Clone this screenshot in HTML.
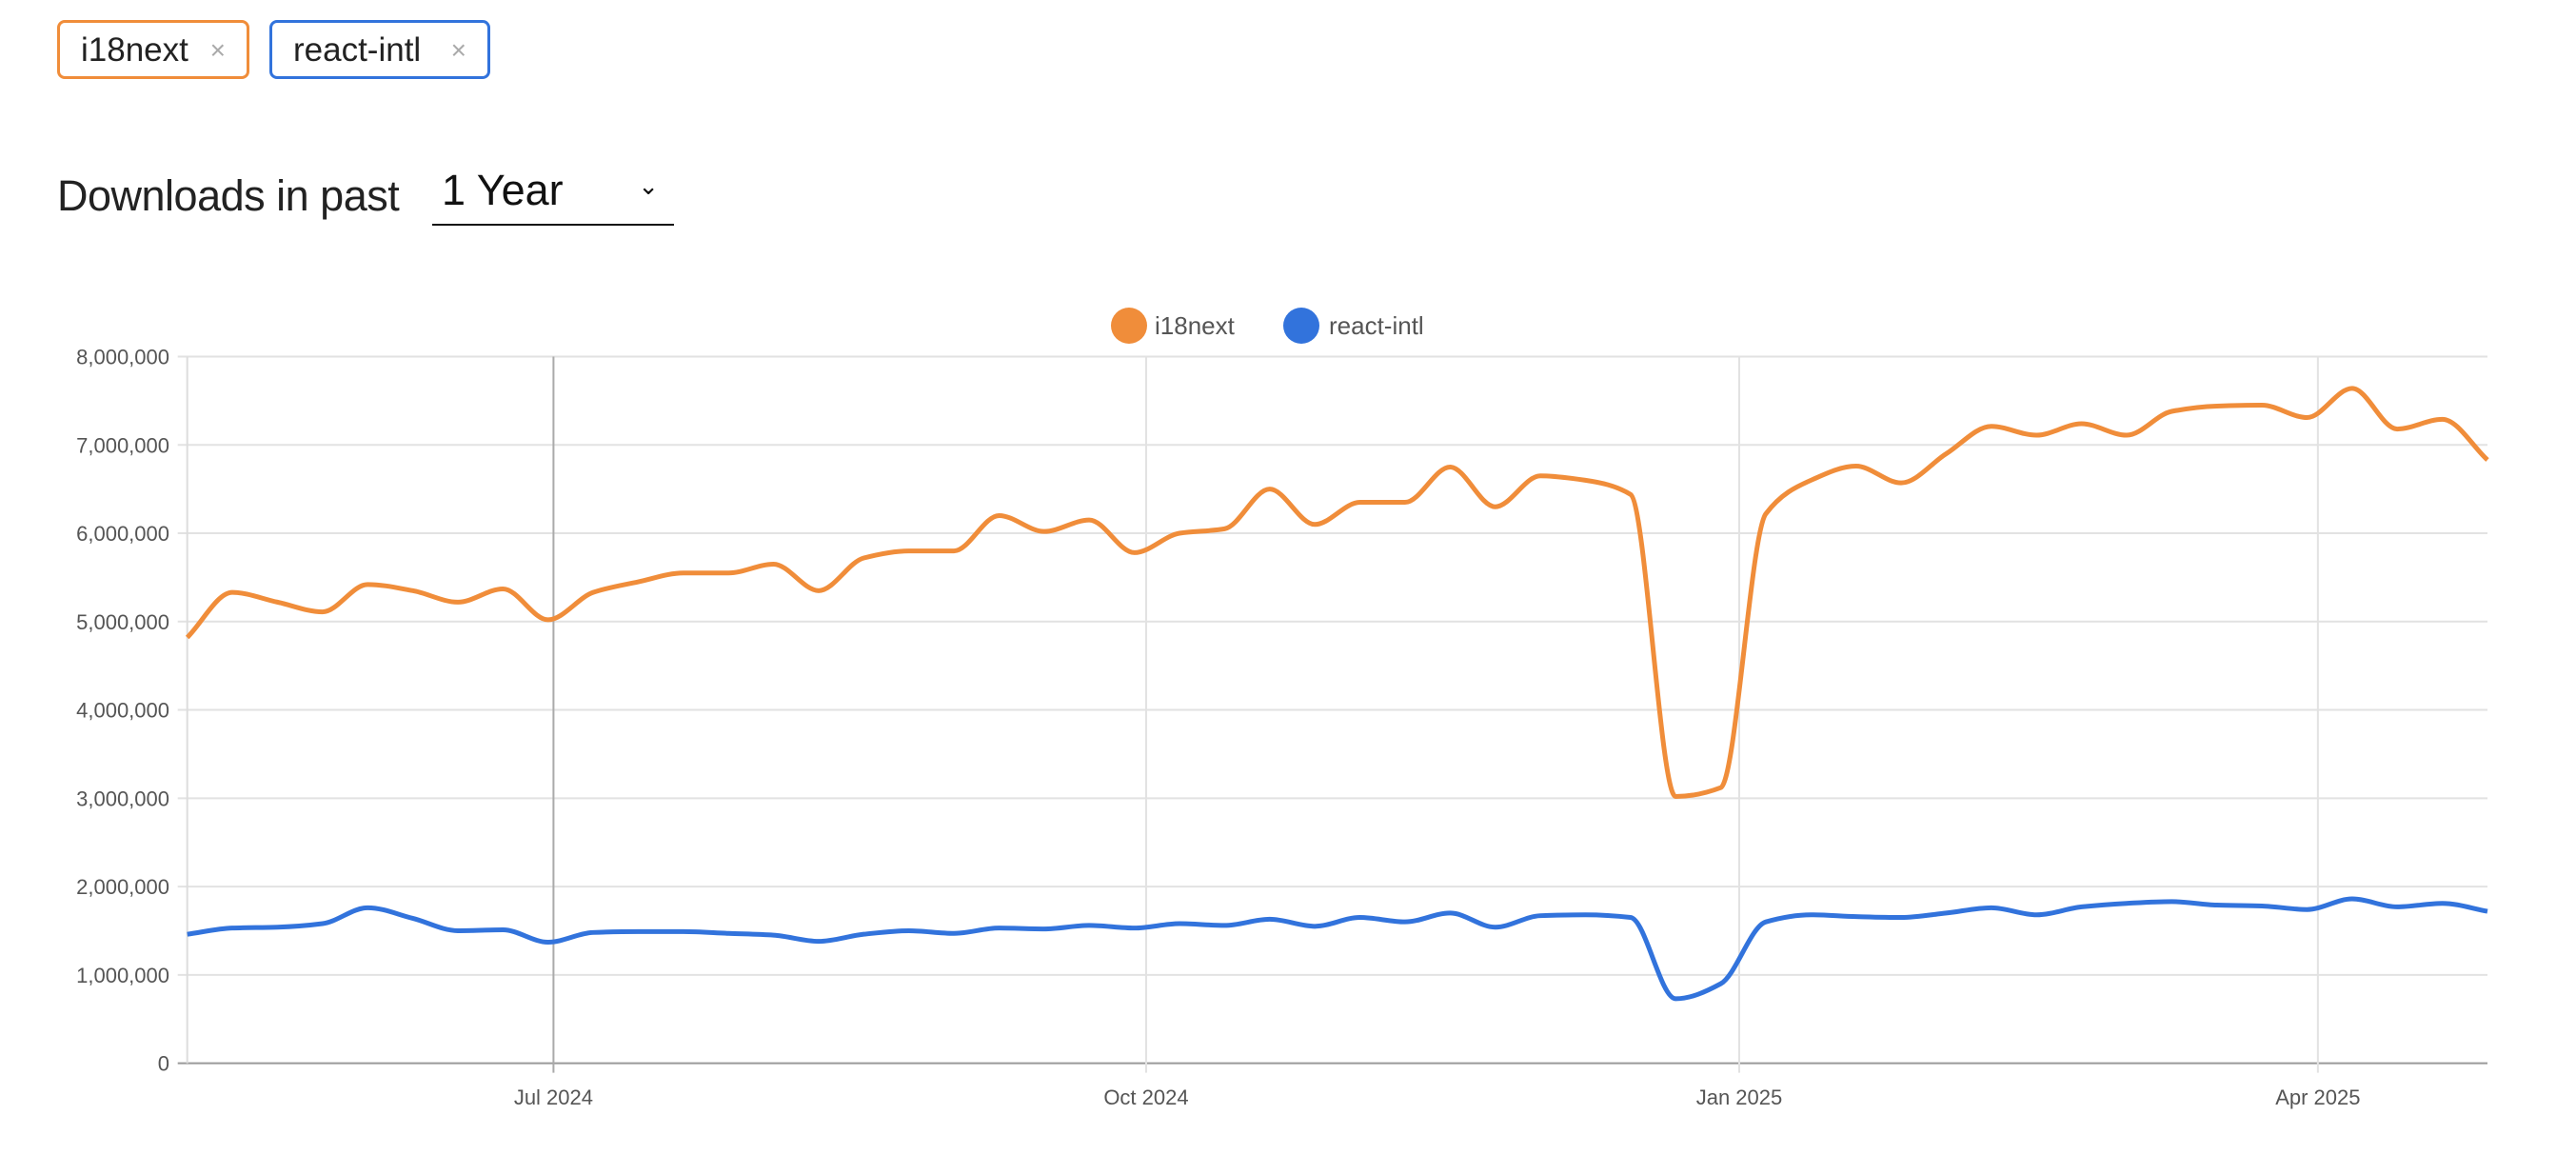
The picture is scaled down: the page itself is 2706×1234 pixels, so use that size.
<!DOCTYPE html>
<html><head><meta charset="utf-8"><style>
body{margin:0;width:2706px;height:1234px;background:#fff;font-family:"Liberation Sans",sans-serif;position:relative;overflow:hidden}
.pill{position:absolute;top:21px;height:62px;border:3px solid;border-radius:8px;box-sizing:border-box;font-size:35px;color:#222;line-height:58px;padding-left:22px}
.pill span{color:#aaa;font-size:28px;position:absolute;right:22px}
</style></head><body>
<div class="pill" style="left:60px;width:202px;border-color:#f08d3a">i18next<span>×</span></div>
<div class="pill" style="left:283px;width:232px;border-color:#3273dc">react-intl<span>×</span></div>
<div style="position:absolute;left:60px;top:180px;font-size:45px;color:#222;letter-spacing:-0.5px">Downloads <span style="font-weight:300">in past</span></div>
<div style="position:absolute;left:454px;top:174px;width:254px;height:63px;border-bottom:2px solid #111;font-size:45px;color:#111;padding-left:10px;box-sizing:border-box">1 Year<span style="position:absolute;right:16px;top:6px;font-size:26px">⌄</span></div>
<svg id="chart" width="2706" height="1234" style="position:absolute;left:0;top:0"></svg>
<script>
const categories=[];for(let i=0;i<52;i++)categories.push(i);
const i18nextValues=[4.82,5.33,5.22,5.11,5.42,5.35,5.22,5.37,5.02,5.33,5.45,5.55,5.55,5.65,5.35,5.72,5.8,5.8,6.2,6.02,6.15,5.78,6.0,6.05,6.5,6.1,6.35,6.35,6.75,6.3,6.65,6.6,6.44,3.02,3.12,6.22,6.6,6.76,6.57,6.9,7.21,7.11,7.24,7.11,7.38,7.44,7.45,7.31,7.64,7.18,7.29,6.83];
const reactIntlValues=[1.46,1.53,1.54,1.58,1.76,1.64,1.5,1.51,1.37,1.48,1.49,1.49,1.47,1.45,1.38,1.46,1.5,1.47,1.53,1.52,1.56,1.53,1.58,1.56,1.63,1.55,1.65,1.6,1.7,1.54,1.67,1.68,1.65,0.73,0.9,1.6,1.68,1.66,1.65,1.7,1.76,1.68,1.77,1.81,1.83,1.79,1.78,1.74,1.86,1.77,1.81,1.72];
const yTicks=[0,1,2,3,4,5,6,7,8];
const xTickLabels=["Jul 2024","Oct 2024","Jan 2025","Apr 2025"];
const xTickIndex=[8.12,21.26,34.41,47.24];
const L=196.7,R=2613,T=374.5,B=1116.6;
const xs=i=>L+(R-L)*i/51;
const ys=v=>B-(B-T)*v/8;
const svg=document.getElementById('chart');const NS='http://www.w3.org/2000/svg';
function mk(t,a){const e=document.createElementNS(NS,t);for(const k in a)e.setAttribute(k,a[k]);svg.appendChild(e);return e;}
yTicks.forEach(v=>{
 const g=mk('line',{x1:L-10,x2:R,y1:ys(v),y2:ys(v),stroke:v===0?'#999':'#e2e2e2','stroke-width':2});
 
 
 const t=mk('text',{x:178,y:ys(v)+8,'text-anchor':'end','font-size':22,fill:'#555','font-family':'Liberation Sans, sans-serif'});
 t.textContent=v===0?'0':(v+',000,000');
 
 
});
const ax=mk('line',{x1:L,x2:L,y1:T,y2:B,stroke:'#ddd','stroke-width':2});


xTickLabels.forEach((lab,k)=>{
 const x=xs(xTickIndex[k]);
 const g=mk('line',{x1:x,x2:x,y1:T,y2:B+10,stroke:k===0?'#aaa':'#e2e2e2','stroke-width':2});
 
 
 const t=mk('text',{x:x,y:1160,'text-anchor':'middle','font-size':22,fill:'#555','font-family':'Liberation Sans, sans-serif'});
 t.textContent=lab;
 
 
});
function path(vals){
 const p=vals.map((v,i)=>[xs(i),ys(v)]);
 const n=p.length,h=p[1][0]-p[0][0];
 const dl=[];for(let i=0;i<n-1;i++)dl.push((p[i+1][1]-p[i][1])/h);
 const m=[];m[0]=dl[0];m[n-1]=dl[n-2];
 for(let i=1;i<n-1;i++){ if(dl[i-1]*dl[i]<=0)m[i]=0; else m[i]=2/(1/dl[i-1]+1/dl[i]); }
 let d='M'+p[0][0]+','+p[0][1];
 for(let i=0;i<n-1;i++){
  d+=' C'+(p[i][0]+h/3)+','+(p[i][1]+m[i]*h/3)+' '+(p[i+1][0]-h/3)+','+(p[i+1][1]-m[i+1]*h/3)+' '+p[i+1][0]+','+p[i+1][1];
 }
 return d;
}
const s1=mk('path',{d:path(i18nextValues),fill:'none',stroke:'#f08d3a','stroke-width':5,'stroke-linejoin':'round'});


const s2=mk('path',{d:path(reactIntlValues),fill:'none',stroke:'#3273dc','stroke-width':5,'stroke-linejoin':'round'});


[[1186,'#f08d3a','i18next',1213],[1367,'#3273dc','react-intl',1396]].forEach(l=>{
 const c=mk('circle',{cx:l[0],cy:342,r:19,fill:l[1]});
 
 
 const t=mk('text',{x:l[3],y:351,'font-size':26,fill:'#555','font-family':'Liberation Sans, sans-serif'});
 t.textContent=l[2];
 
 
});
</script>
</body></html>
